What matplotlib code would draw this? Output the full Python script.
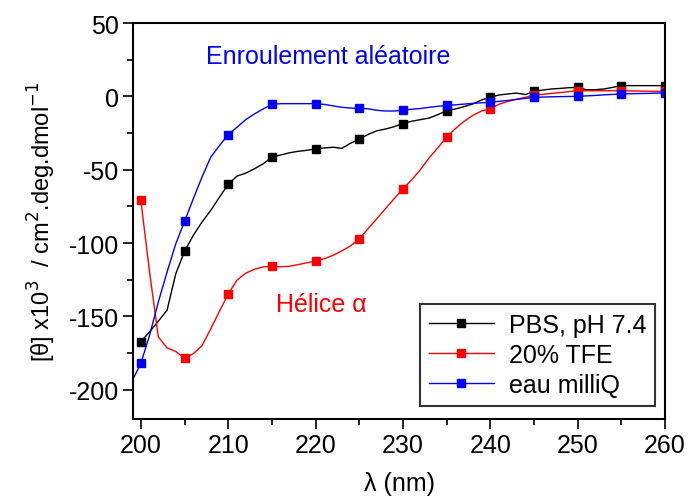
import matplotlib
matplotlib.use("Agg")
import matplotlib.pyplot as plt
from matplotlib.ticker import MultipleLocator

plt.rcParams['font.family'] = ['Liberation Sans', 'DejaVu Sans']
plt.rcParams['axes.unicode_minus'] = False

# wavelength (nm)
wl_pbs = list(range(200, 261))
wl_tfe = list(range(200, 261))
wl_eau = list(range(199, 261))

pbs = [-167.4, -160.5, -153.3, -145.8, -120.9, -105.7, -94.8, -85.7, -77.8, -68.7,
       -60.0, -54.4, -52.4, -49.4, -46.0, -41.5, -40.0, -38.5, -37.5, -36.8,
       -35.9, -35.2, -34.7, -35.5, -32.0, -29.2, -26.0, -23.5, -22.3, -20.7,
       -18.6, -17.0, -15.9, -14.8, -12.5, -9.8, -8.6, -7.0, -5.2, -2.5,
       -0.5, 0.9, 1.6, 2.2, 1.2, 3.4, 4.3, 5.0, 5.4, 5.9,
       6.1, 4.5, 4.5, 5.0, 6.1, 7.3, 7.3, 7.3, 7.3, 7.3, 7.3]

tfe = [-71.0, -120.0, -164.0, -171.5, -174.0, -178.5, -175.5, -170.0, -158.5, -146.5,
       -134.8, -125.3, -120.6, -117.9, -116.3, -115.9, -116.2, -115.9, -114.7, -113.5,
       -112.3, -110.7, -108.4, -105.4, -102.0, -97.1, -90.3, -83.5, -76.6, -69.8,
       -63.0, -57.0, -50.0, -42.0, -35.0, -27.9, -22.0, -17.0, -13.0, -10.0,
       -8.6, -5.4, -3.5, -2.0, -0.7, 0.9, 1.3, 2.0, 2.6, 3.2,
       3.8, 3.8, 3.8, 3.8, 3.8, 3.8, 3.7, 3.6, 3.5, 3.4, 3.4]

eau = [-194.0,
       -182.1, -162.8, -140.2, -119.8, -100.5, -85.3, -69.9, -55.0, -41.5, -33.6,
       -26.1, -21.1, -15.9, -12.0, -8.6, -5.5, -5.0, -5.0, -5.0, -5.0,
       -5.0, -5.5, -6.5, -7.5, -8.0, -8.2, -8.5, -9.5, -10.0, -10.0,
       -9.5, -8.8, -8.3, -7.5, -6.8, -6.2, -5.8, -5.3, -4.8, -4.4,
       -4.1, -3.4, -2.8, -2.1, -1.4, -0.7, -0.5, -0.3, -0.2, -0.1,
       0.0, 0.3, 0.6, 1.0, 1.3, 1.6, 1.8, 1.9, 2.0, 2.2, 2.3]

labels = ["PBS, pH 7.4", "20% TFE", "eau milliQ"]

fig = plt.figure(figsize=(6.88, 5.02), dpi=100)
ax = fig.add_axes([133/688, 1-420/502, (665-133)/688, (420-24)/502])

ax.plot(wl_pbs, pbs, color='black', lw=1.0, marker='s', ms=6, markevery=slice(0, None, 5), label=labels[0])
ax.plot(wl_tfe, tfe, color='#ff0000', lw=1.0, marker='s', ms=6, markevery=slice(0, None, 5), label=labels[1])
ax.plot(wl_eau, eau, color='#0000ff', lw=1.0, marker='s', ms=6, markevery=slice(1, None, 5), label=labels[2])

ax.set_xlim(199.1, 260)
ax.set_ylim(-220, 50)
ax.xaxis.set_major_locator(MultipleLocator(10))
ax.xaxis.set_minor_locator(MultipleLocator(5))
ax.yaxis.set_major_locator(MultipleLocator(50))
ax.yaxis.set_minor_locator(MultipleLocator(25))
ax.tick_params(which='major', direction='out', length=7, width=1.2, labelsize=18, pad=3)
ax.tick_params(which='minor', direction='out', length=4, width=1.2)
for s in ax.spines.values():
    s.set_linewidth(1.5)

ax.set_xlabel("λ (nm)", fontsize=18, labelpad=10)
ax.set_ylabel("[θ] x10$^{3}$  / cm$^{2}$.deg.dmol$^{-1}$", fontsize=17, labelpad=8)

ax.text(221.4, 27.5, "Enroulement aléatoire", color='#0000ff', fontsize=18, ha='center', va='center')
ax.text(220.6, -141.5, "Hélice α", color='#ff0000', fontsize=18, ha='center', va='center')

leg = ax.legend(loc='lower right', bbox_to_anchor=(0.981, 0.033), fontsize=18, frameon=True,
                fancybox=False, edgecolor='black', handlelength=2.6, handletextpad=0.6,
                labelspacing=0.25, borderpad=0.35, borderaxespad=0)
leg.get_frame().set_linewidth(1.5)

fig.savefig("out.png", dpi=100)
